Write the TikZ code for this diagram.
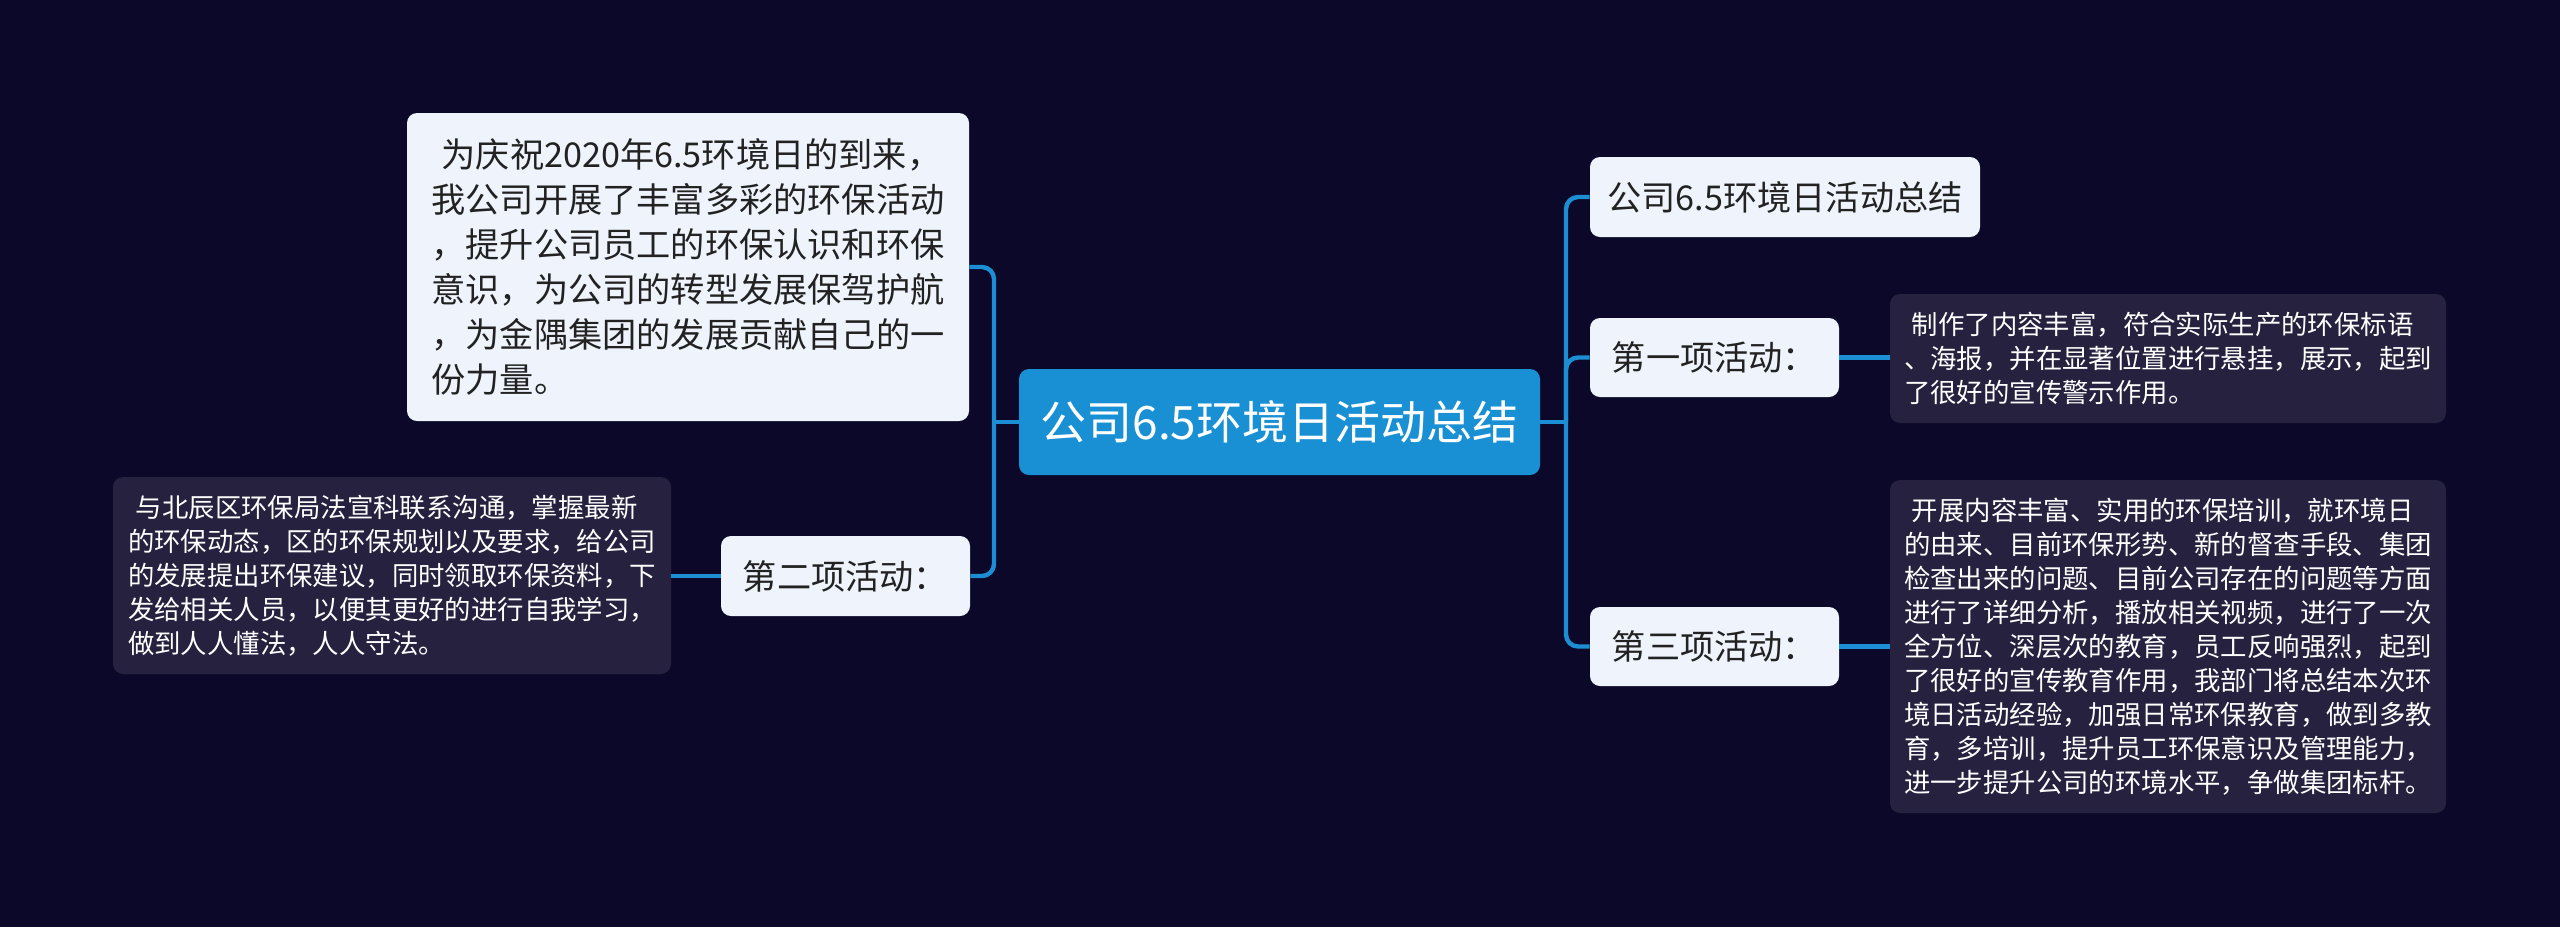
\documentclass[tikz,border=0pt]{standalone}
\usepackage{fontspec}
\setmainfont{Noto Sans CJK SC}
\definecolor{bgcol}{HTML}{0B0829}
\definecolor{conncol}{HTML}{1B8ED4}
\definecolor{mainblue}{HTML}{1A90D4}
\definecolor{lightcol}{HTML}{EEF3FC}
\definecolor{detailcol}{HTML}{25213F}
\definecolor{darktext}{HTML}{222222}
\begin{document}
\begin{tikzpicture}[x=0.5pt,y=-0.5pt,
  box/.style={rounded corners=5pt, inner sep=0pt, align=left, anchor=center},
  lightbox/.style={box, fill=lightcol, text=darktext, font=\fontsize{17.1}{22.5}\selectfont},
  detailbox/.style={box, fill=detailcol, text=white, font=\fontsize{13.2}{17}\selectfont},
  mainbox/.style={box, fill=mainblue, text=white, font=\fontsize{23}{28}\selectfont},
  conn/.style={draw=conncol, line width=2.2pt},
  elbow/.style={conn, rounded corners=6pt}]
\fill[bgcol] (0,0) rectangle (2560,927);
\useasboundingbox (0,0) rectangle (2560,927);

\node[mainbox, minimum width=260.5pt, minimum height=53pt] (c) at (1279.5,422) {公司6.5环境日活动总结};

\node[lightbox, minimum width=281pt, minimum height=154pt] (tl) at (688,267)
 {\hspace*{0.3em}为庆祝2020年6.5环境日的到来，\\我公司开展了丰富多彩的环保活动\\，提升公司员工的环保认识和环保\\意识，为公司的转型发展保驾护航\\，为金隅集团的发展贡献自己的一\\份力量。};

\node[lightbox, minimum width=124.5pt, minimum height=40pt] (a2) at (845.5,576) {第二项活动：};

\node[detailbox, minimum width=279pt, minimum height=98.5pt] (d2) at (392,575.5)
 {\hspace*{0.3em}与北辰区环保局法宣科联系沟通，掌握最新\\的环保动态，区的环保规划以及要求，给公司\\的发展提出环保建议，同时领取环保资料，下\\发给相关人员，以便其更好的进行自我学习，\\做到人人懂法，人人守法。};

\node[lightbox, minimum width=195pt, minimum height=40pt] (r0) at (1785,197) {公司6.5环境日活动总结};

\node[lightbox, minimum width=124.5pt, minimum height=39.5pt] (a1) at (1714.5,357.5) {第一项活动：};

\node[detailbox, minimum width=278pt, minimum height=64.5pt] (d1) at (2168,358.5)
 {\hspace*{0.3em}制作了内容丰富，符合实际生产的环保标语\\、海报，并在显著位置进行悬挂，展示，起到\\了很好的宣传警示作用。};

\node[lightbox, minimum width=124.5pt, minimum height=39.5pt] (a3) at (1714.5,646.5) {第三项活动：};

\node[detailbox, minimum width=278pt, minimum height=166.5pt] (d3) at (2168,646.5)
 {\hspace*{0.3em}开展内容丰富、实用的环保培训，就环境日\\的由来、目前环保形势、新的督查手段、集团\\检查出来的问题、目前公司存在的问题等方面\\进行了详细分析，播放相关视频，进行了一次\\全方位、深层次的教育，员工反响强烈，起到\\了很好的宣传教育作用，我部门将总结本次环\\境日活动经验，加强日常环保教育，做到多教\\育，多培训，提升员工环保意识及管理能力，\\进一步提升公司的环境水平，争做集团标杆。};

\coordinate (lj) at (994,422);
\coordinate (rj) at (1566,422);
\draw[conn] (c.west) -- (lj);
\draw[elbow] (lj) |- (tl.east);
\draw[elbow] (lj) |- (a2.east);
\draw[conn] (a2.west) -- (a2.west -| d2.east);
\draw[conn] (c.east) -- (rj);
\draw[elbow] (rj) |- (r0.west);
\draw[elbow] (rj) |- (a1.west);
\draw[elbow] (rj) |- (a3.west);
\draw[conn] (a1.east) -- (a1.east -| d1.west);
\draw[conn] (a3.east) -- (a3.east -| d3.west);
\end{tikzpicture}
\end{document}
